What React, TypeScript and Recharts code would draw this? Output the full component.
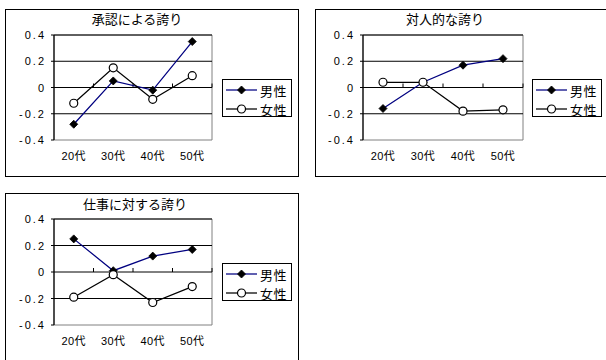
import React from 'react';
import { LineChart, Line, XAxis, YAxis, ReferenceLine, ReferenceArea } from 'recharts';

const ages = ['20代', '30代', '40代', '50代'];
const yTicks = [-0.4, -0.2, 0, 0.2, 0.4];
const gridValues = [0.4, 0.2, -0.2];

// 承認による誇り
const shoninMale = [-0.28, 0.05, -0.02, 0.35];
const shoninFemale = [-0.12, 0.15, -0.09, 0.09];
// 対人的な誇り
const taijinMale = [-0.16, 0.04, 0.17, 0.22];
const taijinFemale = [0.04, 0.04, -0.18, -0.17];
// 仕事に対する誇り
const shigotoMale = [0.25, 0.01, 0.12, 0.17];
const shigotoFemale = [-0.19, -0.02, -0.23, -0.11];

const FONT = "'Liberation Sans', 'Noto Sans CJK JP', sans-serif";
const MALE_COLOR = '#000080';

const toRows = (male: number[], female: number[]) =>
  ages.map((age, i) => ({ age, male: male[i], female: female[i] }));

const fmt = (v: number) => (v === 0 ? '0' : v.toFixed(1));

const DiamondDot = (props: any) => {
  const { cx, cy } = props;
  if (cx == null || cy == null) return null;
  const r = 4;
  return (
    <polygon
      points={`${cx},${cy - r} ${cx + r},${cy} ${cx},${cy + r} ${cx - r},${cy}`}
      fill="#000"
      stroke="#000"
      strokeWidth={0.8}
    />
  );
};

const CircleDot = (props: any) => {
  const { cx, cy } = props;
  if (cx == null || cy == null) return null;
  return <circle cx={cx} cy={cy} r={4} fill="#fff" stroke="#000" strokeWidth={1.2} />;
};

const YTick = (props: any) => {
  const { x, y, payload } = props;
  return (
    <text x={x} y={y} dy={4} textAnchor="end" fontSize={11} fontFamily={FONT} letterSpacing={2} fill="#000">
      {fmt(payload.value)}
    </text>
  );
};

const XTick = (props: any) => {
  const { x, y, payload } = props;
  return (
    <text x={x} y={y} dy={20} textAnchor="middle" fontSize={11} fontFamily={FONT} letterSpacing={0.5} fill="#000">
      {payload.value}
    </text>
  );
};

// zero line doubles as the category axis, with tick marks between categories
const ZeroAxis = (props: any) => {
  const { x1, y1, x2, y2 } = props;
  const step = (x2 - x1) / ages.length;
  return (
    <g>
      <line x1={x1} y1={y1} x2={x2} y2={y2} stroke="#000" strokeWidth={1} />
      {ages.map((_, i) => (
        <line key={i} x1={x1 + step * (i + 1)} x2={x1 + step * (i + 1)} y1={y1} y2={y1 - 4} stroke="#000" strokeWidth={1} />
      ))}
    </g>
  );
};

const LegendBox = ({ left, top }: { left: number; top: number }) => {
  const items = [
    { name: '男性', color: MALE_COLOR, Dot: DiamondDot },
    { name: '女性', color: '#000', Dot: CircleDot },
  ];
  return (
    <div
      style={{
        position: 'absolute',
        left,
        top,
        width: 70,
        height: 38,
        boxSizing: 'border-box',
        border: '1px solid #000',
        background: '#fff',
      }}
    >
      {items.map((it, i) => (
        <div key={it.name} style={{ position: 'absolute', left: 0, top: 1 + i * 19, height: 18, display: 'flex', alignItems: 'center' }}>
          <svg width={36} height={18} style={{ display: 'block' }}>
            <line x1={3} y1={9} x2={34} y2={9} stroke={it.color} strokeWidth={1.25} />
            <it.Dot cx={18.5} cy={9} />
          </svg>
          <span style={{ fontSize: 13, fontFamily: FONT, color: '#000', marginLeft: 1, letterSpacing: 0.5 }}>{it.name}</span>
        </div>
      ))}
    </div>
  );
};

interface PanelProps {
  title: string;
  male: number[];
  female: number[];
  left: number;
  top: number;
  width: number;
  height: number;
  plotLeft: number;
  plotTop: number;
  plotWidth: number;
  plotHeight: number;
  titleX: number;
  titleY: number;
  legendLeft: number;
  legendTop: number;
}

function Panel(p: PanelProps) {
  const data = toRows(p.male, p.female);
  const w = p.width - 2;
  const h = p.height - 2;
  return (
    <div
      style={{
        position: 'absolute',
        left: p.left,
        top: p.top,
        width: p.width,
        height: p.height,
        boxSizing: 'border-box',
        border: '1px solid #000',
        background: '#fff',
      }}
    >
      <div
        style={{
          position: 'absolute',
          left: p.titleX - 80,
          width: 160,
          top: p.titleY - 9,
          height: 18,
          lineHeight: '18px',
          textAlign: 'center',
          fontSize: 13,
          fontFamily: FONT,
          color: '#000',
        }}
      >
        {p.title}
      </div>
      <LineChart
        width={w}
        height={h}
        data={data}
        margin={{ top: p.plotTop, left: 0, right: w - p.plotLeft - p.plotWidth, bottom: 0 }}
      >
        <ReferenceArea y1={-0.4} y2={0.4} fill="none" stroke="#808080" strokeWidth={1} />
        {gridValues.map((v) => (
          <ReferenceLine key={v} y={v} stroke="#000" strokeWidth={1} />
        ))}
        <ReferenceLine y={0} shape={<ZeroAxis />} />
        <XAxis
          dataKey="age"
          scale="band"
          axisLine={false}
          tickLine={false}
          tickSize={0}
          tickMargin={0}
          interval={0}
          height={h - p.plotTop - p.plotHeight}
          tick={<XTick />}
        />
        <YAxis
          domain={[-0.4, 0.4]}
          ticks={yTicks}
          interval={0}
          width={p.plotLeft}
          axisLine={{ stroke: '#000', strokeWidth: 1.2 }}
          tickLine={{ stroke: '#000' }}
          tickSize={3}
          tickMargin={5}
          tick={<YTick />}
        />
        <Line dataKey="male" stroke={MALE_COLOR} strokeWidth={1.25} dot={<DiamondDot />} isAnimationActive={false} />
        <Line dataKey="female" stroke="#000" strokeWidth={1.25} dot={<CircleDot />} isAnimationActive={false} />
      </LineChart>
      <LegendBox left={p.legendLeft} top={p.legendTop} />
    </div>
  );
}

export default function App() {
  return (
    <div
      style={{
        position: 'fixed',
        left: 0,
        top: 0,
        width: 606,
        height: 360,
        overflow: 'hidden',
        background: '#fff',
      }}
    >
      <Panel
        title="承認による誇り"
        male={shoninMale}
        female={shoninFemale}
        left={5}
        top={9}
        width={294}
        height={168}
        plotLeft={48}
        plotTop={25}
        plotWidth={158}
        plotHeight={105}
        titleX={131}
        titleY={10}
        legendLeft={216}
        legendTop={69}
      />
      <Panel
        title="対人的な誇り"
        male={taijinMale}
        female={taijinFemale}
        left={315}
        top={9}
        width={294}
        height={168}
        plotLeft={47}
        plotTop={25}
        plotWidth={160}
        plotHeight={105}
        titleX={129}
        titleY={10}
        legendLeft={216}
        legendTop={69}
      />
      <Panel
        title="仕事に対する誇り"
        male={shigotoMale}
        female={shigotoFemale}
        left={5}
        top={193}
        width={294}
        height={172}
        plotLeft={48}
        plotTop={25}
        plotWidth={158}
        plotHeight={106}
        titleX={129}
        titleY={11}
        legendLeft={216}
        legendTop={69}
      />
    </div>
  );
}
